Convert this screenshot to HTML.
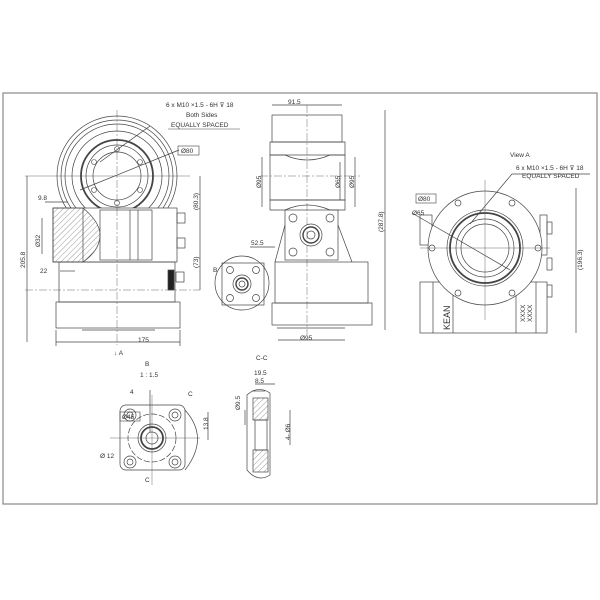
<!DOCTYPE html>
<html><head><meta charset="utf-8"><style>
html,body{margin:0;padding:0;background:#fff}
svg{display:block}
text{font-family:"Liberation Sans",sans-serif;fill:#333}
</style></head><body>
<svg width="600" height="600" viewBox="0 0 600 600" xmlns="http://www.w3.org/2000/svg">
<defs>
<pattern id="h" width="4" height="4" patternUnits="userSpaceOnUse" patternTransform="rotate(45)"><line x1="0" y1="0" x2="0" y2="4" stroke="#555" stroke-width="0.6"/></pattern>
</defs>
<rect x="3" y="93" width="594" height="411" fill="none" stroke="#888" stroke-width="1.2"/>
<g fill="none" stroke="#444" stroke-width="0.7">
<!-- LEFT VIEW -->
<circle cx="117" cy="176" r="60"/>
<circle cx="117" cy="176" r="56"/>
<circle cx="117" cy="176" r="52"/>
<circle cx="117" cy="176" r="45"/>
<circle cx="117" cy="176" r="36" stroke-width="1.8"/>
<circle cx="117" cy="176" r="31"/>
<circle cx="117" cy="176" r="24"/>
<g stroke-width="0.6"><circle cx="117" cy="149" r="2.5"/><circle cx="117" cy="203" r="2.5"/><circle cx="94" cy="162" r="2.5"/><circle cx="140" cy="162" r="2.5"/><circle cx="94" cy="190" r="2.5"/><circle cx="140" cy="190" r="2.5"/></g>
<rect x="53" y="208" width="124" height="54" fill="#fff"/>
<rect x="53" y="208" width="30" height="54" fill="url(#h)"/>
<path d="M83 208 Q100 222 100 235 Q100 250 83 262" fill="url(#h)"/>
<rect x="100" y="210" width="52" height="50"/>
<line x1="130" y1="210" x2="130" y2="260"/><line x1="138" y1="210" x2="138" y2="260"/>
<rect x="177" y="213" width="8" height="10"/><rect x="177" y="238" width="8" height="10"/>
<rect x="59" y="262" width="116" height="40"/>
<rect x="56" y="302" width="124" height="26"/>
<line x1="82" y1="330" x2="155" y2="330"/>
<rect x="168" y="270" width="6" height="20" fill="#222"/>
<rect x="176" y="272" width="8" height="10"/>
<line x1="117" y1="110" x2="117" y2="345" stroke-dasharray="8 2 2 2" stroke-width="0.4"/>
<line x1="25" y1="176" x2="190" y2="176" stroke-width="0.4"/>
<line x1="25" y1="290" x2="200" y2="290" stroke-dasharray="8 2 2 2" stroke-width="0.4"/>
<!-- dims left -->
<line x1="27" y1="176" x2="27" y2="342"/><line x1="56" y1="342" x2="180" y2="342"/>
<line x1="56" y1="330" x2="56" y2="346"/><line x1="180" y1="330" x2="180" y2="346"/>
<line x1="200" y1="176" x2="200" y2="290"/>
<line x1="45" y1="202" x2="68" y2="202"/><line x1="42" y1="218" x2="42" y2="254"/>
<line x1="60" y1="271" x2="75" y2="271"/>
<line x1="150" y1="126" x2="100" y2="162"/>
<line x1="179" y1="150" x2="80" y2="190"/>
<!-- MIDDLE VIEW -->
<rect x="272" y="115" width="70" height="27"/>
<path d="M270 142 L345 142 L345 155 L330 155 Q307 165 285 155 L270 155Z"/>
<rect x="270" y="155" width="75" height="45"/>
<path d="M270 200 L345 200 L345 210 L330 210 Q307 200 285 210 L270 210Z"/>
<rect x="285" y="210" width="53" height="50"/>
<circle cx="311" cy="235" r="11"/><circle cx="311" cy="235" r="8" stroke-width="1.4"/><circle cx="311" cy="235" r="4"/>
<circle cx="293" cy="218" r="4"/><circle cx="330" cy="218" r="4"/><circle cx="293" cy="252" r="4"/><circle cx="330" cy="252" r="4"/>
<line x1="285" y1="225" x2="275" y2="262"/><line x1="338" y1="225" x2="352" y2="262"/>
<rect x="275" y="262" width="93" height="41"/>
<rect x="272" y="303" width="100" height="22"/>
<line x1="277" y1="328" x2="345" y2="328"/>
<circle cx="242" cy="283" r="27" fill="#fff"/>
<rect x="222" y="263" width="42" height="42"/>
<circle cx="242" cy="284" r="9"/><circle cx="242" cy="284" r="6" stroke-width="1.4"/><circle cx="242" cy="284" r="3"/>
<circle cx="230" cy="270" r="3.5"/><circle cx="256" cy="270" r="3.5"/><circle cx="230" cy="298" r="3.5"/><circle cx="256" cy="298" r="3.5"/>
<line x1="307" y1="105" x2="307" y2="335" stroke-dasharray="8 2 2 2" stroke-width="0.4"/>
<line x1="260" y1="176" x2="360" y2="176" stroke-dasharray="8 2 2 2" stroke-width="0.4"/>
<line x1="272" y1="105" x2="342" y2="105"/>
<line x1="262" y1="157" x2="262" y2="207"/><line x1="355" y1="157" x2="355" y2="207"/><line x1="340" y1="162" x2="340" y2="200"/>
<line x1="385" y1="110" x2="385" y2="330"/>
<line x1="278" y1="340" x2="345" y2="340"/>
<line x1="250" y1="247" x2="275" y2="247"/>
<!-- RIGHT VIEW -->
<rect x="420" y="215" width="12" height="30"/><rect x="540" y="215" width="7" height="40"/>
<rect x="547" y="222" width="5" height="12"/><rect x="547" y="258" width="5" height="12"/><rect x="547" y="285" width="5" height="12"/>
<rect x="420" y="282" width="127" height="51" fill="#fff"/>
<line x1="433" y1="282" x2="433" y2="333"/><line x1="453" y1="282" x2="453" y2="333"/><line x1="516" y1="282" x2="516" y2="333"/><line x1="536" y1="282" x2="536" y2="333"/>
<circle cx="485" cy="248" r="57" fill="#fff"/>
<circle cx="485" cy="248" r="38"/>
<circle cx="485" cy="248" r="35" stroke-width="1.8"/>
<circle cx="485" cy="248" r="29"/>
<circle cx="485" cy="248" r="24"/>
<g><circle cx="458" cy="203" r="3"/><circle cx="512" cy="203" r="3"/><circle cx="458" cy="293" r="3"/><circle cx="512" cy="293" r="3"/><circle cx="432" cy="248" r="3"/><circle cx="538" cy="248" r="3"/></g>
<line x1="485" y1="180" x2="485" y2="320" stroke-width="0.4"/>
<line x1="420" y1="248" x2="550" y2="248" stroke-width="0.4"/>
<line x1="412" y1="213" x2="510" y2="270"/>
<line x1="512" y1="174" x2="470" y2="224"/><line x1="512" y1="174" x2="590" y2="174"/>
<line x1="576" y1="188" x2="576" y2="333"/>
<!-- DETAIL B -->
<path d="M185 410 Q210 438 185 470" />
<rect x="120" y="405" width="65" height="65" rx="6"/>
<circle cx="152" cy="438" r="24" stroke-dasharray="6 2"/>
<circle cx="152" cy="438" r="14"/><circle cx="152" cy="438" r="11" stroke-width="1.8"/><circle cx="152" cy="438" r="6"/>
<circle cx="130" cy="415" r="6"/><circle cx="130" cy="415" r="3"/>
<circle cx="175" cy="415" r="6"/><circle cx="175" cy="415" r="3"/>
<circle cx="130" cy="462" r="6"/><circle cx="130" cy="462" r="3"/>
<circle cx="175" cy="462" r="6"/><circle cx="175" cy="462" r="3"/>
<line x1="152" y1="395" x2="152" y2="485" stroke-width="0.4"/><line x1="110" y1="438" x2="200" y2="438" stroke-width="0.4"/>
<line x1="208" y1="412" x2="208" y2="440"/><line x1="150" y1="390" x2="150" y2="432"/>
<!-- C-C -->
<path d="M247 395 Q258 385 270 393 L270 475 Q258 483 247 470 Z"/>
<rect x="253" y="398" width="15" height="22" fill="url(#h)"/>
<rect x="253" y="450" width="15" height="22" fill="url(#h)"/>
<rect x="255" y="420" width="12" height="30"/>
<line x1="255" y1="384" x2="275" y2="384"/><line x1="252" y1="391" x2="265" y2="391"/>
<line x1="245" y1="410" x2="245" y2="425"/><line x1="290" y1="410" x2="290" y2="445"/>
</g>
<g font-size="6.5">
<text x="166" y="107">6 x  M10 ×1.5 - 6H ⊽ 18</text>
<text x="186" y="117">Both Sides</text>
<text x="171" y="127">EQUALLY SPACED</text>
<line x1="168" y1="129" x2="240" y2="129" stroke="#444" stroke-width="0.6"/>
<rect x="178" y="146" width="21" height="9" fill="none" stroke="#444" stroke-width="0.6"/><text x="181" y="153">Ø80</text>
<text x="38" y="200">9.8</text>
<text x="40" y="273">22</text>
<text x="138" y="342">175</text>
<text x="114" y="355">↓ A</text>
<text x="288" y="104">91.5</text>
<text x="251" y="245">52.5</text>
<text x="300" y="340">Ø95</text>
<text x="213" y="272">B</text>
<text x="510" y="157">View  A</text>
<text x="516" y="170">6 x  M10 ×1.5 - 6H ⊽ 18</text>
<text x="522" y="178">EQUALLY SPACED</text>
<rect x="416" y="194" width="20" height="9" fill="none" stroke="#444" stroke-width="0.6"/><text x="418" y="201">Ø80</text>
<text x="412" y="215">Ø65</text>
<text x="145" y="366">B</text>
<text x="140" y="377">1 : 1.5</text>
<text x="130" y="394">4</text>
<text x="188" y="396">C</text>
<rect x="120" y="412" width="20" height="9" fill="none" stroke="#444" stroke-width="0.6"/><text x="122" y="419">Ø45</text>
<text x="100" y="458">Ø 12</text>
<text x="145" y="482">C</text>
<text x="256" y="360">C-C</text>
<text x="254" y="375">19.5</text>
<text x="255" y="383">8.5</text>
</g>
<g font-size="6.5">
<text transform="translate(25,268) rotate(-90)">205.8</text>
<text transform="translate(198,210) rotate(-90)">(80.3)</text>
<text transform="translate(198,268) rotate(-90)">(73)</text>
<text transform="translate(40,247) rotate(-90)">Ø32</text>
<text transform="translate(261,188) rotate(-90)">Ø95</text>
<text transform="translate(340,188) rotate(-90)">Ø65</text>
<text transform="translate(354,188) rotate(-90)">Ø95</text>
<text transform="translate(383,232) rotate(-90)">(287.8)</text>
<text transform="translate(582,270) rotate(-90)">(196.3)</text>
<text transform="translate(208,430) rotate(-90)">13.8</text>
<text transform="translate(240,410) rotate(-90)">Ø9.5</text>
<text transform="translate(290,440) rotate(-90)">4- Ø6</text>
<text transform="translate(450,330) rotate(-90)" font-size="9">KEAN</text>
<text transform="translate(525,322) rotate(-90)">XXXX</text>
<text transform="translate(532,322) rotate(-90)">XXXX</text>
</g>
</svg>
</body></html>
